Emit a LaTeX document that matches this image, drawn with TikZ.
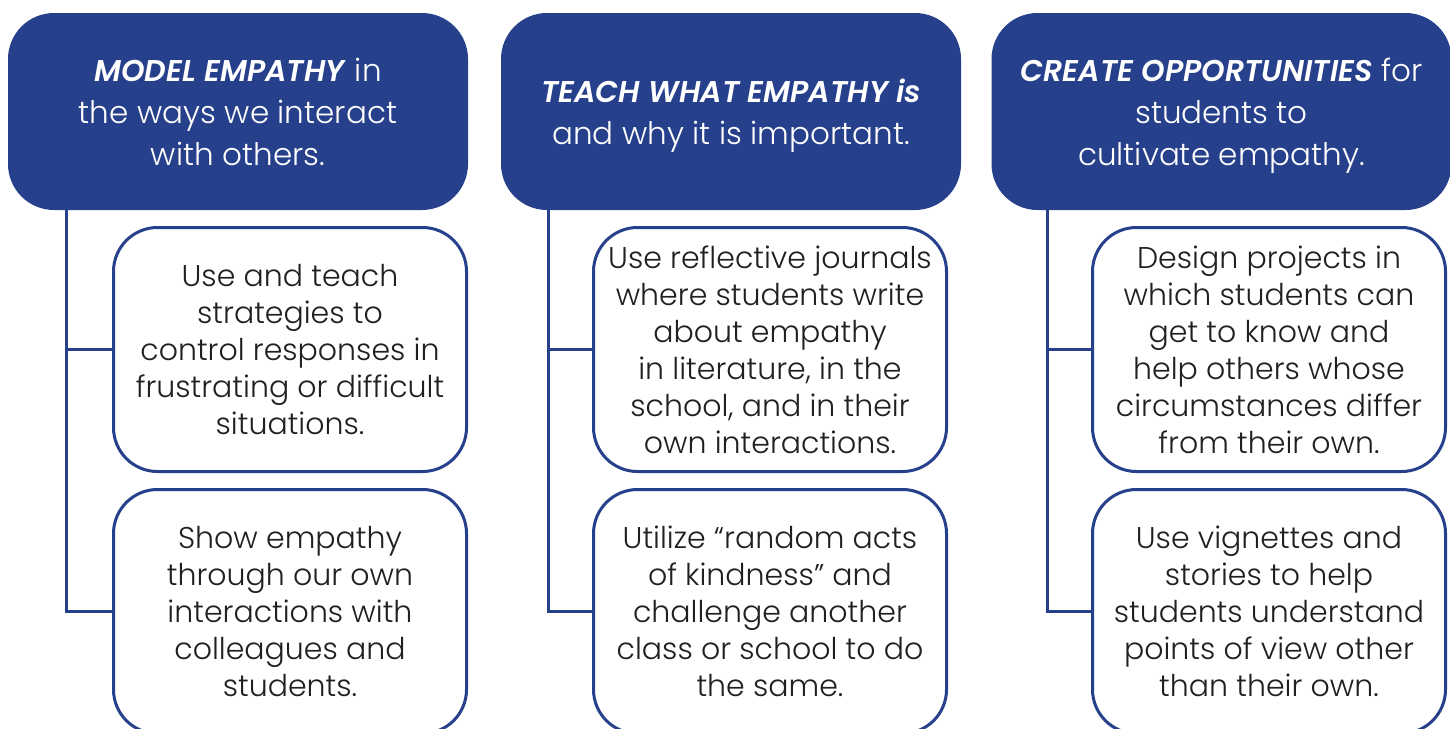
\documentclass[tikz,border=0pt]{standalone}
\usepackage{fontspec}
\setmainfont{Poppins Light}[BoldItalicFont={Poppins SemiBold Italic}]
\definecolor{navy}{RGB}{39,64,140}
\definecolor{ink}{RGB}{35,31,32}
\newcommand{\headfont}{\fontsize{31}{42}\selectfont}
\newcommand{\itemfont}{\fontsize{30}{37}\selectfont}
\newcommand{\lead}[1]{{\fontsize{30}{42}\selectfont\textbf{\textit{#1}}}}
% struts that fix the height of the first line and the depth of the last
\newcommand{\htop}{\rule{0pt}{37.4pt}}
\newcommand{\hbot}{\rule[-12.6pt]{0pt}{12.6pt}}
\newcommand{\itop}{\rule{0pt}{33.9pt}}
\newcommand{\ibot}{\rule[-11.1pt]{0pt}{11.1pt}}
\begin{document}
\begin{tikzpicture}[x=1pt,y=-1pt,
  head/.style={fill=navy, rounded corners=46pt, minimum width=460pt,
    minimum height=197pt, text=white, align=center, font=\headfont, inner sep=0pt},
  item/.style={draw=navy, line width=3pt, fill=white, rounded corners=44pt,
    minimum width=353pt, minimum height=244pt, text=ink, align=center,
    font=\itemfont, inner sep=0pt},
  link/.style={draw=navy, line width=3pt}]
\useasboundingbox (0,0) rectangle (1450,728);
\clip (0,0) rectangle (1450,728);

% column headers
\node[head] (h1) at (238,111.5) {\htop\lead{MODEL EMPATHY} in\\the ways we interact\\with others.\hbot};
\node[head] (h2) at (731,111.5) {\htop\lead{TEACH WHAT EMPATHY is}\\and why it is important.\hbot};
\node[head] (h3) at (1221.5,111.5) {\htop\lead{CREATE OPPORTUNITIES} for\\students to\\cultivate empathy.\hbot};

% spines of the three columns
\coordinate (j1) at (66,0);
\coordinate (j2) at (548,0);
\coordinate (j3) at (1047,0);

% items
\node[item] (c1a) at (290,349.5) {\itop Use and teach\\strategies to\\control responses in\\frustrating or difficult\\situations.\ibot};
\node[item] (c1b) at (290,611.5) {\itop Show empathy\\through our own\\interactions with\\colleagues and\\students.\ibot};
\node[item] (c2a) at (770,349.5) {\itop Use reflective journals\\where students write\\about empathy\\in literature, in the\\school, and in their\\own interactions.\ibot};
\node[item] (c2b) at (770,611.5) {\itop Utilize “random acts\\of kindness” and\\challenge another\\class or school to do\\the same.\ibot};
\node[item] (c3a) at (1269,349.5) {\itop Design projects in\\which students can\\get to know and\\help others whose\\circumstances differ\\from their own.\ibot};
\node[item] (c3b) at (1269,611.5) {\itop Use vignettes and\\stories to help\\students understand\\points of view other\\than their own.\ibot};

% connectors
\foreach \c/\h/\a/\b in {j1/h1/c1a/c1b, j2/h2/c2a/c2b, j3/h3/c3a/c3b}{
  \draw[link] (\c |- \h.south) -- (\c |- \b.west) -- (\b.west);
  \draw[link] (\c |- \a.west) -- (\a.west);
}
\end{tikzpicture}
\end{document}
